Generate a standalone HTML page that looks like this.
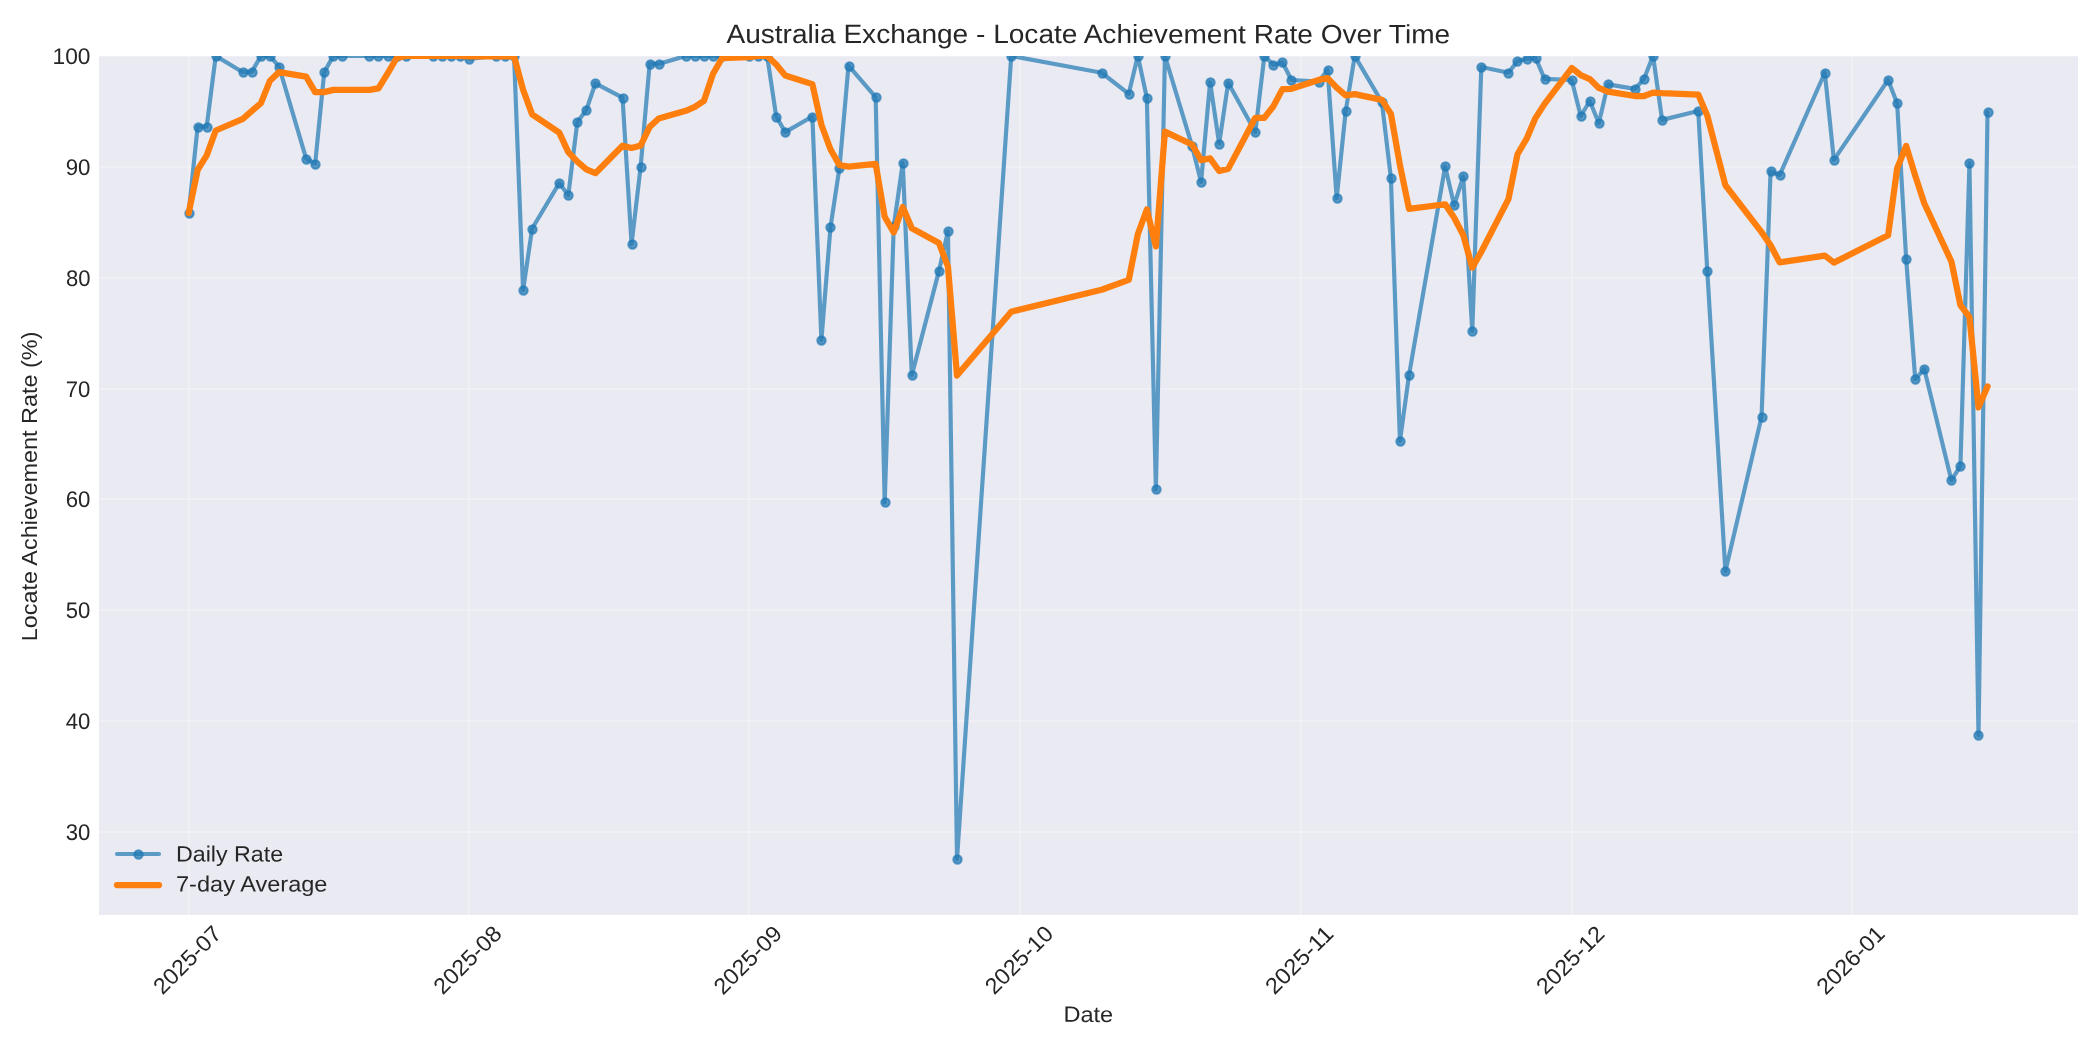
<!DOCTYPE html>
<html lang="en">
<head>
<meta charset="utf-8">
<title>Australia Exchange - Locate Achievement Rate Over Time</title>
<style>
html,body{margin:0;padding:0;background:#fff;}
body{width:2100px;height:1050px;overflow:hidden;}
svg{display:block;will-change:transform;}
text{font-family:"Liberation Sans",sans-serif;fill:#262626;}
.t10{font-size:22px;}
.t12{font-size:26.4px;}
.tk{font-size:22.6px;}
</style>
</head>
<body>
<svg width="2100" height="1050" viewBox="0 0 2100 1050">
<defs><clipPath id="axclip"><rect x="98.9" y="55.9" width="1978.8" height="859.1"/></clipPath><clipPath id="axclip2"><rect x="99" y="56" width="1979" height="859"/></clipPath></defs>
<rect x="0" y="0" width="2100" height="1050" fill="#ffffff"/>
<rect x="99" y="56" width="1979" height="859" fill="#eaeaf2"/>
<g stroke="#ffffff" stroke-opacity="0.25" stroke-width="2" clip-path="url(#axclip2)">
<line x1="189" y1="55.9" x2="189" y2="915"/>
<line x1="469" y1="55.9" x2="469" y2="915"/>
<line x1="749" y1="55.9" x2="749" y2="915"/>
<line x1="1020" y1="55.9" x2="1020" y2="915"/>
<line x1="1301" y1="55.9" x2="1301" y2="915"/>
<line x1="1572" y1="55.9" x2="1572" y2="915"/>
<line x1="1852" y1="55.9" x2="1852" y2="915"/>
<line x1="98.9" y1="832" x2="2077.7" y2="832"/>
<line x1="98.9" y1="721" x2="2077.7" y2="721"/>
<line x1="98.9" y1="610" x2="2077.7" y2="610"/>
<line x1="98.9" y1="499" x2="2077.7" y2="499"/>
<line x1="98.9" y1="389" x2="2077.7" y2="389"/>
<line x1="98.9" y1="278" x2="2077.7" y2="278"/>
<line x1="98.9" y1="167" x2="2077.7" y2="167"/>
<line x1="98.9" y1="56" x2="2077.7" y2="56"/>
</g>
<g clip-path="url(#axclip)" fill="none" stroke-linejoin="round" stroke-linecap="round">
<polyline points="188.63,213.03 197.67,126.54 206.7,126.54 215.74,55.9 242.86,72.2 251.9,71.65 260.94,55.9 269.98,55.9 279.02,66.66 306.14,158.69 315.18,163.68 324.22,72.2 333.26,55.9 342.3,55.9 369.42,55.9 378.46,55.9 387.5,55.9 396.54,55.9 405.58,55.9 432.7,55.9 441.74,55.9 450.78,55.9 459.82,55.9 468.86,58.89 495.98,55.9 505.02,55.9 514.06,55.9 523.1,290.09 532.14,228.55 559.25,183.09 568.29,195.29 577.33,122.1 586.37,109.9 595.41,83.29 622.53,97.7 631.57,244.08 640.61,167.01 649.65,63.88 658.69,63.88 685.81,55.9 694.85,55.9 703.89,55.9 712.93,55.9 721.97,55.9 749.09,55.9 758.13,55.9 767.17,55.9 776.21,116.56 785.25,132.08 812.37,116.56 821.41,340.1 830.45,227.44 839.49,167.56 848.53,65.55 875.65,97.15 884.69,502.44 893.73,226.33 902.77,163.13 911.8,375.26 938.92,271.13 947.96,231.21 957,859.17 1011.24,55.9 1101.64,72.75 1128.76,93.82 1137.8,55.9 1146.84,97.7 1155.88,489.47 1164.92,55.9 1192.04,145.94 1201.08,181.98 1210.12,82.18 1219.16,143.72 1228.2,82.73 1255.32,132.08 1264.36,55.9 1273.39,64.99 1282.43,62.22 1291.47,79.96 1318.59,81.63 1327.63,69.98 1336.67,198.17 1345.71,111.01 1354.75,55.9 1381.87,102.14 1390.91,178.1 1399.95,441.01 1408.99,375.26 1445.15,166.45 1454.19,205.27 1463.23,176.43 1472.27,331.01 1481.31,66.99 1508.43,72.75 1517.47,61.11 1526.51,58.89 1535.55,57.79 1544.59,78.85 1571.71,79.96 1580.75,116 1589.79,101.03 1598.83,123.21 1607.87,84.4 1634.98,88.83 1644.02,78.85 1653.06,55.9 1662.1,119.88 1698.26,111.01 1707.3,271.02 1725.38,571.19 1761.54,417.06 1770.58,171.22 1779.62,175.21 1824.82,72.75 1833.86,159.8 1888.1,79.96 1897.14,103.25 1906.18,259.05 1915.22,379.03 1924.26,369.05 1951.38,480.27 1960.42,465.85 1969.46,163.13 1978.49,735.31 1987.53,112.12" stroke="#1f77b4" stroke-opacity="0.7" stroke-width="4.17"/>
<g fill="#1f77b4" fill-opacity="0.7" stroke="#1f77b4" stroke-opacity="0.7" stroke-width="2.08">
<circle cx="189.5" cy="213.5" r="4.17"/>
<circle cx="198.5" cy="127.5" r="4.17"/>
<circle cx="207.5" cy="127.5" r="4.17"/>
<circle cx="216.5" cy="56.5" r="4.17"/>
<circle cx="243.5" cy="72.5" r="4.17"/>
<circle cx="252.5" cy="72.5" r="4.17"/>
<circle cx="261.5" cy="56.5" r="4.17"/>
<circle cx="270.5" cy="56.5" r="4.17"/>
<circle cx="279.5" cy="67.5" r="4.17"/>
<circle cx="306.5" cy="159.5" r="4.17"/>
<circle cx="315.5" cy="164.5" r="4.17"/>
<circle cx="324.5" cy="72.5" r="4.17"/>
<circle cx="333.5" cy="56.5" r="4.17"/>
<circle cx="342.5" cy="56.5" r="4.17"/>
<circle cx="369.5" cy="56.5" r="4.17"/>
<circle cx="378.5" cy="56.5" r="4.17"/>
<circle cx="388.5" cy="56.5" r="4.17"/>
<circle cx="397.5" cy="56.5" r="4.17"/>
<circle cx="406.5" cy="56.5" r="4.17"/>
<circle cx="433.5" cy="56.5" r="4.17"/>
<circle cx="442.5" cy="56.5" r="4.17"/>
<circle cx="451.5" cy="56.5" r="4.17"/>
<circle cx="460.5" cy="56.5" r="4.17"/>
<circle cx="469.5" cy="59.5" r="4.17"/>
<circle cx="496.5" cy="56.5" r="4.17"/>
<circle cx="505.5" cy="56.5" r="4.17"/>
<circle cx="514.5" cy="56.5" r="4.17"/>
<circle cx="523.5" cy="290.5" r="4.17"/>
<circle cx="532.5" cy="229.5" r="4.17"/>
<circle cx="559.5" cy="183.5" r="4.17"/>
<circle cx="568.5" cy="195.5" r="4.17"/>
<circle cx="577.5" cy="122.5" r="4.17"/>
<circle cx="586.5" cy="110.5" r="4.17"/>
<circle cx="595.5" cy="83.5" r="4.17"/>
<circle cx="623.5" cy="98.5" r="4.17"/>
<circle cx="632.5" cy="244.5" r="4.17"/>
<circle cx="641.5" cy="167.5" r="4.17"/>
<circle cx="650.5" cy="64.5" r="4.17"/>
<circle cx="659.5" cy="64.5" r="4.17"/>
<circle cx="686.5" cy="56.5" r="4.17"/>
<circle cx="695.5" cy="56.5" r="4.17"/>
<circle cx="704.5" cy="56.5" r="4.17"/>
<circle cx="713.5" cy="56.5" r="4.17"/>
<circle cx="722.5" cy="56.5" r="4.17"/>
<circle cx="749.5" cy="56.5" r="4.17"/>
<circle cx="758.5" cy="56.5" r="4.17"/>
<circle cx="767.5" cy="56.5" r="4.17"/>
<circle cx="776.5" cy="117.5" r="4.17"/>
<circle cx="785.5" cy="132.5" r="4.17"/>
<circle cx="812.5" cy="117.5" r="4.17"/>
<circle cx="821.5" cy="340.5" r="4.17"/>
<circle cx="830.5" cy="227.5" r="4.17"/>
<circle cx="839.5" cy="168.5" r="4.17"/>
<circle cx="849.5" cy="66.5" r="4.17"/>
<circle cx="876.5" cy="97.5" r="4.17"/>
<circle cx="885.5" cy="502.5" r="4.17"/>
<circle cx="894.5" cy="226.5" r="4.17"/>
<circle cx="903.5" cy="163.5" r="4.17"/>
<circle cx="912.5" cy="375.5" r="4.17"/>
<circle cx="939.5" cy="271.5" r="4.17"/>
<circle cx="948.5" cy="231.5" r="4.17"/>
<circle cx="957.5" cy="859.5" r="4.17"/>
<circle cx="1011.5" cy="56.5" r="4.17"/>
<circle cx="1102.5" cy="73.5" r="4.17"/>
<circle cx="1129.5" cy="94.5" r="4.17"/>
<circle cx="1138.5" cy="56.5" r="4.17"/>
<circle cx="1147.5" cy="98.5" r="4.17"/>
<circle cx="1156.5" cy="489.5" r="4.17"/>
<circle cx="1165.5" cy="56.5" r="4.17"/>
<circle cx="1192.5" cy="146.5" r="4.17"/>
<circle cx="1201.5" cy="182.5" r="4.17"/>
<circle cx="1210.5" cy="82.5" r="4.17"/>
<circle cx="1219.5" cy="144.5" r="4.17"/>
<circle cx="1228.5" cy="83.5" r="4.17"/>
<circle cx="1255.5" cy="132.5" r="4.17"/>
<circle cx="1264.5" cy="56.5" r="4.17"/>
<circle cx="1273.5" cy="65.5" r="4.17"/>
<circle cx="1282.5" cy="62.5" r="4.17"/>
<circle cx="1291.5" cy="80.5" r="4.17"/>
<circle cx="1319.5" cy="82.5" r="4.17"/>
<circle cx="1328.5" cy="70.5" r="4.17"/>
<circle cx="1337.5" cy="198.5" r="4.17"/>
<circle cx="1346.5" cy="111.5" r="4.17"/>
<circle cx="1355.5" cy="56.5" r="4.17"/>
<circle cx="1382.5" cy="102.5" r="4.17"/>
<circle cx="1391.5" cy="178.5" r="4.17"/>
<circle cx="1400.5" cy="441.5" r="4.17"/>
<circle cx="1409.5" cy="375.5" r="4.17"/>
<circle cx="1445.5" cy="166.5" r="4.17"/>
<circle cx="1454.5" cy="205.5" r="4.17"/>
<circle cx="1463.5" cy="176.5" r="4.17"/>
<circle cx="1472.5" cy="331.5" r="4.17"/>
<circle cx="1481.5" cy="67.5" r="4.17"/>
<circle cx="1508.5" cy="73.5" r="4.17"/>
<circle cx="1517.5" cy="61.5" r="4.17"/>
<circle cx="1527.5" cy="59.5" r="4.17"/>
<circle cx="1536.5" cy="58.5" r="4.17"/>
<circle cx="1545.5" cy="79.5" r="4.17"/>
<circle cx="1572.5" cy="80.5" r="4.17"/>
<circle cx="1581.5" cy="116.5" r="4.17"/>
<circle cx="1590.5" cy="101.5" r="4.17"/>
<circle cx="1599.5" cy="123.5" r="4.17"/>
<circle cx="1608.5" cy="84.5" r="4.17"/>
<circle cx="1635.5" cy="89.5" r="4.17"/>
<circle cx="1644.5" cy="79.5" r="4.17"/>
<circle cx="1653.5" cy="56.5" r="4.17"/>
<circle cx="1662.5" cy="120.5" r="4.17"/>
<circle cx="1698.5" cy="111.5" r="4.17"/>
<circle cx="1707.5" cy="271.5" r="4.17"/>
<circle cx="1725.5" cy="571.5" r="4.17"/>
<circle cx="1762.5" cy="417.5" r="4.17"/>
<circle cx="1771.5" cy="171.5" r="4.17"/>
<circle cx="1780.5" cy="175.5" r="4.17"/>
<circle cx="1825.5" cy="73.5" r="4.17"/>
<circle cx="1834.5" cy="160.5" r="4.17"/>
<circle cx="1888.5" cy="80.5" r="4.17"/>
<circle cx="1897.5" cy="103.5" r="4.17"/>
<circle cx="1906.5" cy="259.5" r="4.17"/>
<circle cx="1915.5" cy="379.5" r="4.17"/>
<circle cx="1924.5" cy="369.5" r="4.17"/>
<circle cx="1951.5" cy="480.5" r="4.17"/>
<circle cx="1960.5" cy="466.5" r="4.17"/>
<circle cx="1969.5" cy="163.5" r="4.17"/>
<circle cx="1978.5" cy="735.5" r="4.17"/>
<circle cx="1988.5" cy="112.5" r="4.17"/>
</g>
<polyline points="188.63,213.03 197.67,169.78 206.7,155.37 215.74,130.5 242.86,118.84 251.9,110.97 260.94,103.11 269.98,80.66 279.02,72.11 306.14,76.7 315.18,92.1 324.22,92.1 333.26,89.85 342.3,89.85 369.42,89.85 378.46,88.31 387.5,73.63 396.54,58.23 405.58,55.9 432.7,55.9 441.74,55.9 450.78,55.9 459.82,55.9 468.86,56.33 495.98,56.33 505.02,56.33 514.06,56.33 523.1,89.78 532.14,114.45 559.25,132.62 568.29,152.1 577.33,161.56 586.37,169.27 595.41,173.19 622.53,145.7 631.57,147.92 640.61,145.62 649.65,126.85 658.69,118.54 685.81,110.82 694.85,106.91 703.89,100.94 712.93,74.05 721.97,58.18 749.09,57.04 758.13,55.9 767.17,55.9 776.21,64.57 785.25,75.45 812.37,84.11 821.41,124.71 830.45,149.22 839.49,165.17 848.53,166.55 875.65,163.78 884.69,216.69 893.73,232.37 902.77,207.09 911.8,228.2 938.92,243 947.96,266.67 957,375.52 1011.24,311.73 1101.64,289.79 1128.76,279.89 1137.8,234.27 1146.84,209.49 1155.88,246.39 1164.92,131.64 1192.04,144.5 1201.08,160.1 1210.12,158.44 1219.16,170.99 1228.2,168.85 1255.32,117.79 1264.36,117.79 1273.39,106.23 1282.43,89.12 1291.47,88.8 1318.59,79.93 1327.63,78.11 1336.67,87.55 1345.71,95.42 1354.75,94.12 1381.87,99.83 1390.91,113.85 1399.95,165.19 1408.99,208.8 1445.15,204.27 1454.19,217.73 1463.23,234.95 1472.27,267.65 1481.31,251.77 1508.43,199.17 1517.47,154.29 1526.51,138.92 1535.55,117.85 1544.59,103.91 1571.71,68.05 1580.75,75.05 1589.79,79.09 1598.83,87.96 1607.87,91.61 1634.98,96.04 1644.02,96.04 1653.06,92.6 1662.1,93.16 1698.26,94.58 1707.3,115.7 1725.38,185.24 1761.54,232.13 1770.58,245.33 1779.62,262.37 1824.82,255.64 1833.86,262.61 1888.1,235.32 1897.14,168.47 1906.18,145.89 1915.22,175.58 1924.26,203.27 1951.38,261.49 1960.42,305.21 1969.46,317.09 1978.49,407.38 1987.53,386.39" stroke="#ff7f0e" stroke-width="6.25"/>
</g>
<g fill="none" stroke-linecap="round">
<line x1="117" y1="854" x2="159" y2="854" stroke="#1f77b4" stroke-opacity="0.7" stroke-width="4.17"/>
<circle cx="138.5" cy="854.5" r="4.17" fill="#1f77b4" fill-opacity="0.7" stroke="#1f77b4" stroke-opacity="0.7" stroke-width="2.08"/>
<line x1="117" y1="885" x2="159" y2="885" stroke="#ff7f0e" stroke-width="6.25"/>
</g>
<text class="t12" transform="translate(726.42,42.9) rotate(0.03)" textLength="723.75" lengthAdjust="spacingAndGlyphs">Australia Exchange - Locate Achievement Rate Over Time</text>
<text class="t10" transform="translate(1063.42,1021.87) rotate(0.03)" textLength="49.75" lengthAdjust="spacingAndGlyphs">Date</text>
<text class="t10" transform="translate(175.98,861.53) rotate(0.03)" textLength="107.12" lengthAdjust="spacingAndGlyphs">Daily Rate</text>
<text class="t10" transform="translate(175.98,891.45) rotate(0.03)" textLength="151.5" lengthAdjust="spacingAndGlyphs">7-day Average</text>
<text class="tk" transform="translate(65.81,840) rotate(0.03)" textLength="24.6" lengthAdjust="spacingAndGlyphs">30</text>
<text class="tk" transform="translate(65.81,729) rotate(0.03)" textLength="24.6" lengthAdjust="spacingAndGlyphs">40</text>
<text class="tk" transform="translate(65.81,618) rotate(0.03)" textLength="24.6" lengthAdjust="spacingAndGlyphs">50</text>
<text class="tk" transform="translate(65.68,507) rotate(0.03)" textLength="24.73" lengthAdjust="spacingAndGlyphs">60</text>
<text class="tk" transform="translate(65.81,397) rotate(0.03)" textLength="24.6" lengthAdjust="spacingAndGlyphs">70</text>
<text class="tk" transform="translate(65.93,286) rotate(0.03)" textLength="24.48" lengthAdjust="spacingAndGlyphs">80</text>
<text class="tk" transform="translate(65.68,175) rotate(0.03)" textLength="24.73" lengthAdjust="spacingAndGlyphs">90</text>
<text class="tk" transform="translate(52.56,64) rotate(0.03)" textLength="37.85" lengthAdjust="spacingAndGlyphs">100</text>
<text class="t10" transform="translate(37.33,641.16) rotate(-90)" x="0" y="0" textLength="309.62" lengthAdjust="spacingAndGlyphs">Locate Achievement Rate (%)</text>
<text class="tk" transform="translate(188.45,961.12) rotate(-45)" x="-42.7" y="6" textLength="85.4" lengthAdjust="spacingAndGlyphs">2025-07</text>
<text class="tk" transform="translate(468.68,961.08) rotate(-45)" x="-42.64" y="6" textLength="85.28" lengthAdjust="spacingAndGlyphs">2025-08</text>
<text class="tk" transform="translate(748.91,961.17) rotate(-45)" x="-42.76" y="6" textLength="85.53" lengthAdjust="spacingAndGlyphs">2025-09</text>
<text class="tk" transform="translate(1020.1,961.12) rotate(-45)" x="-42.7" y="6" textLength="85.4" lengthAdjust="spacingAndGlyphs">2025-10</text>
<text class="tk" transform="translate(1300.33,961.12) rotate(-45)" x="-42.7" y="6" textLength="85.4" lengthAdjust="spacingAndGlyphs">2025-11</text>
<text class="tk" transform="translate(1571.53,961.12) rotate(-45)" x="-42.7" y="6" textLength="85.4" lengthAdjust="spacingAndGlyphs">2025-12</text>
<text class="tk" transform="translate(1851.76,961.17) rotate(-45)" x="-42.76" y="6" textLength="85.53" lengthAdjust="spacingAndGlyphs">2026-01</text>
</svg>
</body>
</html>
